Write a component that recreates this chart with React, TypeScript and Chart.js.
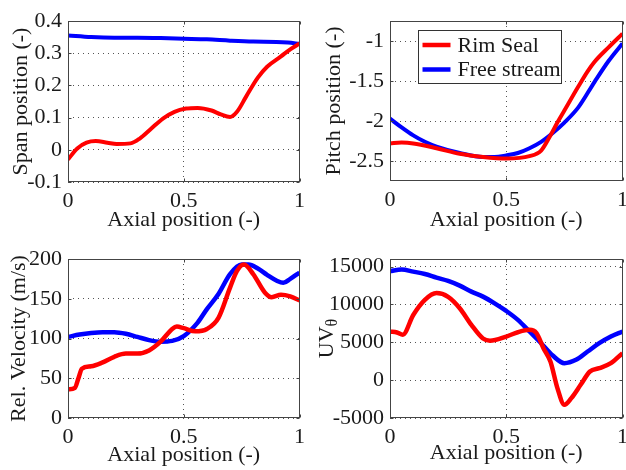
import React, { useEffect, useRef } from "react";
import { Chart, registerables } from "chart.js";
Chart.register(...registerables);

// ---------- data ----------
const axialTicks = [0, 0.5, 1];

// Span position (top-left)
const spanTicks = [-0.1, 0, 0.1, 0.2, 0.3, 0.4];
const spanRimX = [0, 0.04, 0.08, 0.12, 0.17, 0.21, 0.27, 0.31, 0.36, 0.41, 0.46, 0.51, 0.56, 0.62, 0.66, 0.7, 0.73, 0.77, 0.82, 0.86, 0.92, 0.96, 1];
const spanRimY = [-0.03, 0.004, 0.022, 0.027, 0.022, 0.018, 0.02, 0.035, 0.066, 0.097, 0.118, 0.128, 0.13, 0.122, 0.11, 0.102, 0.118, 0.166, 0.224, 0.258, 0.29, 0.312, 0.33];
const spanFreeX = [0, 0.1, 0.2, 0.3, 0.4, 0.5, 0.6, 0.7, 0.8, 0.9, 0.95, 1];
const spanFreeY = [0.355, 0.35, 0.348, 0.348, 0.347, 0.345, 0.343, 0.339, 0.336, 0.335, 0.333, 0.329];

// Pitch position (top-right)
const pitchTicks = [-2.5, -2, -1.5, -1];
const pitchRimX = [0, 0.05, 0.1, 0.2, 0.3, 0.4, 0.5, 0.6, 0.65, 0.69, 0.72, 0.75, 0.81, 0.85, 0.88, 0.94, 1];
const pitchRimY = [-2.28, -2.27, -2.28, -2.34, -2.41, -2.45, -2.47, -2.44, -2.37, -2.18, -2.02, -1.87, -1.57, -1.38, -1.26, -1.08, -0.91];
const pitchFreeX = [0, 0.05, 0.1, 0.15, 0.2, 0.3, 0.4, 0.45, 0.5, 0.55, 0.6, 0.65, 0.7, 0.75, 0.81, 0.88, 0.94, 1];
const pitchFreeY = [-1.97, -2.08, -2.18, -2.26, -2.32, -2.4, -2.45, -2.45, -2.43, -2.4, -2.34, -2.26, -2.15, -2.02, -1.83, -1.51, -1.25, -1.03];

// Relative velocity (bottom-left)
const velTicks = [0, 50, 100, 150, 200];
const velRimX = [0, 0.03, 0.045, 0.06, 0.1, 0.15, 0.2, 0.25, 0.3, 0.35, 0.4, 0.45, 0.47, 0.5, 0.55, 0.6, 0.65, 0.7, 0.73, 0.76, 0.8, 0.85, 0.88, 0.92, 0.96, 1];
const velRimY = [36, 38, 50, 62, 65, 70, 77, 81, 81, 85, 96, 112, 115, 113, 109, 112, 126, 164, 185, 193, 181, 158, 152, 155, 153, 148];
const velFreeX = [0, 0.05, 0.1, 0.15, 0.2, 0.25, 0.3, 0.35, 0.4, 0.45, 0.5, 0.56, 0.6, 0.65, 0.7, 0.75, 0.78, 0.82, 0.86, 0.9, 0.93, 0.96, 1];
const velFreeY = [102, 105, 107, 108, 108, 106, 102, 98, 96, 97, 103, 120, 137, 156, 181, 193, 193, 188, 180, 173, 170, 175, 183];

// UV theta (bottom-right)
const uvTicks = [-5000, 0, 5000, 10000, 15000];
const uvRimX = [0, 0.03, 0.055, 0.1, 0.15, 0.2, 0.25, 0.3, 0.35, 0.4, 0.43, 0.5, 0.55, 0.6, 0.63, 0.66, 0.69, 0.72, 0.75, 0.78, 0.82, 0.86, 0.9, 0.95, 1];
const uvRimY = [6400, 6300, 6000, 8600, 10600, 11500, 11000, 9500, 7300, 5500, 5200, 5760, 6330, 6640, 6200, 4220, 2460, -1050, -3250, -2370, -615, 1140, 1580, 2240, 3560];
const uvFreeX = [0, 0.05, 0.1, 0.15, 0.2, 0.25, 0.3, 0.35, 0.4, 0.45, 0.5, 0.55, 0.6, 0.65, 0.7, 0.75, 0.8, 0.85, 0.9, 0.95, 1];
const uvFreeY = [14400, 14600, 14330, 14020, 13540, 13100, 12480, 11690, 11030, 10150, 9140, 7956, 6420, 4880, 3250, 2240, 2680, 3780, 4880, 5760, 6420];

const seriesNames = ["Rim Seal", "Free stream"];
const seriesColors = ["#ff0000", "#0000ff"];

// ---------- helpers ----------
const FONT = "'Liberation Serif', 'Times New Roman', serif";
const TEXT = "#1a1a1a";
const FS = 22;

const toPts = (xs: number[], ys: number[]) => xs.map((x, i) => ({ x, y: ys[i] }));

const framePlugin = {
  id: "frame",
  afterDatasetsDraw(chart: any) {
    const { ctx, chartArea: a, scales } = chart;
    ctx.save();
    ctx.strokeStyle = "#444";
    ctx.lineWidth = 1;
    ctx.setLineDash([]);
    const l = Math.round(a.left) + 0.5, t = Math.round(a.top) + 0.5;
    const r = Math.round(a.right) - 0.5, b = Math.round(a.bottom) - 0.5;
    ctx.strokeRect(l, t, r - l, b - t);
    const tl = 3;
    ctx.beginPath();
    scales.x.ticks.forEach((tk: any) => {
      const px = Math.round(scales.x.getPixelForValue(tk.value)) + 0.5;
      ctx.moveTo(px, b); ctx.lineTo(px, b - tl);
      ctx.moveTo(px, t); ctx.lineTo(px, t + tl);
    });
    scales.y.ticks.forEach((tk: any) => {
      const py = Math.round(scales.y.getPixelForValue(tk.value)) + 0.5;
      ctx.moveTo(l, py); ctx.lineTo(l + tl, py);
      ctx.moveTo(r, py); ctx.lineTo(r - tl, py);
    });
    ctx.stroke();
    ctx.restore();
  },
};

const legendPlugin = {
  id: "boxLegend",
  afterDraw(chart: any) {
    const opts = chart.options.plugins.boxLegend;
    if (!opts || !opts.show) return;
    const { ctx, chartArea: a } = chart;
    const x = Math.round(a.left + 28) + 0.5, y = Math.round(a.top + 9) + 0.5;
    const w = 143, h = 53;
    ctx.save();
    ctx.fillStyle = "#fff";
    ctx.fillRect(x, y, w, h);
    ctx.strokeStyle = "#333";
    ctx.lineWidth = 1;
    ctx.strokeRect(x, y, w, h);
    ctx.font = `${FS}px ${FONT}`;
    ctx.textBaseline = "middle";
    ctx.textAlign = "left";
    seriesNames.forEach((name, i) => {
      const ry = y + 14.5 + i * 24.5;
      ctx.strokeStyle = seriesColors[i];
      ctx.lineWidth = 4.5;
      ctx.beginPath();
      ctx.moveTo(x + 4, ry);
      ctx.lineTo(x + 32, ry);
      ctx.stroke();
      ctx.fillStyle = TEXT;
      ctx.fillText(name, x + 39, ry + 1);
    });
    ctx.restore();
  },
};

const uvTitlePlugin = {
  id: "uvTitle",
  afterDraw(chart: any) {
    const opts = chart.options.plugins.uvTitle;
    if (!opts || !opts.show) return;
    const { ctx, chartArea: a } = chart;
    ctx.save();
    ctx.translate(opts.x, (a.top + a.bottom) / 2);
    ctx.rotate(-Math.PI / 2);
    ctx.fillStyle = TEXT;
    ctx.textBaseline = "middle";
    ctx.textAlign = "left";
    ctx.font = `${FS}px ${FONT}`;
    const w1 = ctx.measureText("UV").width;
    ctx.font = `16px ${FONT}`;
    const w2 = ctx.measureText("θ").width;
    const sx = -(w1 + w2) / 2;
    ctx.font = `${FS}px ${FONT}`;
    ctx.fillText("UV", sx, 0);
    ctx.font = `16px ${FONT}`;
    ctx.fillText("θ", sx + w1, 6);
    ctx.restore();
  },
};

type PanelProps = {
  left: number; top: number; width: number; height: number;
  padTop: number; padRight: number;
  yWidth: number; xHeight: number;
  yMin: number; yMax: number; yTicks: number[];
  yTitle: string; yTitleOffset: number; xTitleOffset: number;
  rim: { x: number; y: number }[]; free: { x: number; y: number }[];
  lineWidth: number;
  legend?: boolean; uvTitle?: number;
};

function Panel(p: PanelProps) {
  const ref = useRef<HTMLCanvasElement>(null);
  useEffect(() => {
    if (!ref.current) return;
    const tickFont = { family: FONT, size: FS, lineHeight: 1 };
    const chart = new Chart(ref.current, {
      type: "line",
      data: {
        datasets: [
          { label: seriesNames[0], data: p.rim, borderColor: seriesColors[0], borderWidth: p.lineWidth, pointRadius: 0, cubicInterpolationMode: "monotone", fill: false },
          { label: seriesNames[1], data: p.free, borderColor: seriesColors[1], borderWidth: p.lineWidth, pointRadius: 0, cubicInterpolationMode: "monotone", fill: false },
        ],
      },
      options: {
        animation: false,
        responsive: false,
        layout: { padding: { top: p.padTop, right: p.padRight, left: 0, bottom: 0 } },
        plugins: {
          legend: { display: false },
          tooltip: { enabled: false },
          boxLegend: { show: !!p.legend },
          uvTitle: { show: p.uvTitle !== undefined, x: p.uvTitle },
        } as any,
        scales: {
          x: {
            type: "linear",
            min: 0, max: 1,
            afterBuildTicks: (s: any) => { s.ticks = axialTicks.map((v) => ({ value: v })); },
            afterFit: (s: any) => { s.height = p.xHeight; },
            ticks: { color: TEXT, font: tickFont, padding: 8, maxRotation: 0, callback: (v: any) => String(v) },
            grid: { color: "#555", lineWidth: 1, drawTicks: false, tickLength: 0 },
            border: { display: false, dash: [1, 4] },
            title: { display: true, text: "Axial position (-)", color: TEXT, font: { family: FONT, size: FS, lineHeight: 1 }, padding: { top: 0, bottom: p.xTitleOffset - FS / 2 } },
          },
          y: {
            type: "linear",
            min: p.yMin, max: p.yMax,
            afterBuildTicks: (s: any) => { s.ticks = p.yTicks.map((v) => ({ value: v })); },
            afterFit: (s: any) => { s.width = p.yWidth; },
            ticks: { color: TEXT, font: tickFont, padding: 6, callback: (v: any) => String(Math.round(v * 1000) / 1000) },
            grid: { color: "#555", lineWidth: 1, drawTicks: false, tickLength: 0 },
            border: { display: false, dash: [1, 4] },
            title: { display: p.uvTitle === undefined, text: p.yTitle, color: TEXT, font: { family: FONT, size: FS, lineHeight: 1 }, padding: { top: p.yTitleOffset - FS / 2, bottom: 0 } },
          },
        },
      },
      plugins: [framePlugin, legendPlugin, uvTitlePlugin],
    } as any);
    return () => chart.destroy();
  }, []);
  return (
    <canvas
      ref={ref}
      width={p.width}
      height={p.height}
      style={{ position: "absolute", left: p.left, top: p.top, width: p.width, height: p.height }}
    />
  );
}

export default function App() {
  return (
    <div style={{ position: "fixed", left: 0, top: 0, width: 626, height: 470, overflow: "hidden", background: "#fff" }}>
      <Panel left={0} top={0} width={313} height={235} padTop={21} padRight={11} yWidth={68} xHeight={53}
        yMin={-0.1} yMax={0.4} yTicks={spanTicks} yTitle="Span position (-)" yTitleOffset={21} xTitleOffset={15}
        rim={toPts(spanRimX, spanRimY)} free={toPts(spanFreeX, spanFreeY)} lineWidth={4} />
      <Panel left={313} top={0} width={323} height={235} padTop={21} padRight={13} yWidth={77} xHeight={54}
        yMin={-2.75} yMax={-0.75} yTicks={pitchTicks} yTitle="Pitch position (-)" yTitleOffset={21} xTitleOffset={15}
        rim={toPts(pitchRimX, pitchRimY)} free={toPts(pitchFreeX, pitchFreeY)} lineWidth={4} legend />
      <Panel left={0} top={235} width={313} height={235} padTop={24} padRight={11} yWidth={68} xHeight={52}
        yMin={0} yMax={200} yTicks={velTicks} yTitle="Rel. Velocity (m/s)" yTitleOffset={19} xTitleOffset={15}
        rim={toPts(velRimX, velRimY)} free={toPts(velFreeX, velFreeY)} lineWidth={4.5} />
      <Panel left={313} top={235} width={323} height={235} padTop={24} padRight={13} yWidth={77} xHeight={52}
        yMin={-5000} yMax={16000} yTicks={uvTicks} yTitle="UVθ" yTitleOffset={13} xTitleOffset={17}
        rim={toPts(uvRimX, uvRimY)} free={toPts(uvFreeX, uvFreeY)} lineWidth={4.5} uvTitle={14} />
    </div>
  );
}
